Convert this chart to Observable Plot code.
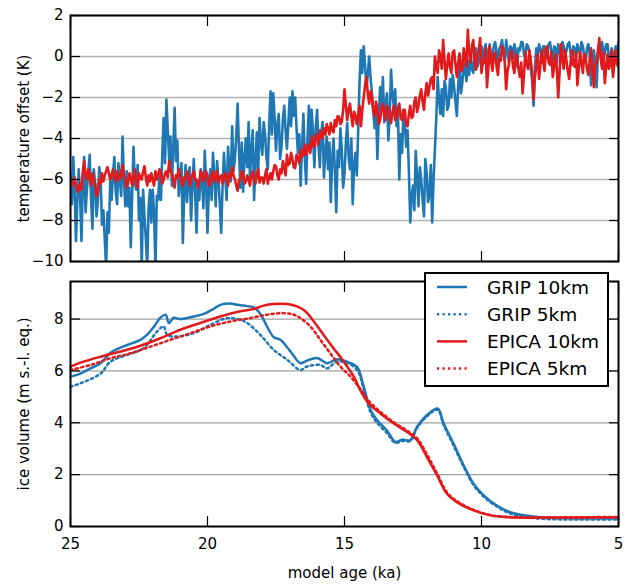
<!DOCTYPE html>
<html>
<head>
<meta charset="utf-8">
<script src="https://cdn.jsdelivr.net/npm/d3@7"></script>
<script src="https://cdn.jsdelivr.net/npm/@observablehq/plot@0.6"></script>
<style>
  body { margin: 0; background: #fff; }
  #chart { position: relative; width: 625px; height: 585px; background: #fff; }
  #chart svg { display: block; }
  #legend { position: absolute; left: 424px; top: 272px; }
</style>
</head>
<body>
<div id="chart"></div>
<script>
// ---------- data ----------
const ageTicks = [25, 20, 15, 10, 5];
const tempTicks = [2, 0, -2, -4, -6, -8, -10];
const iceTicks = [0, 2, 4, 6, 8];

// temperature offset (K), sampled every 0.05 ka from 25.0 ka to 5.0 ka
const tempStart = 25.0;
const tempStep = 0.05;
const gripTemp = [
  -5.8, -7.2, -4.9, -6.5, -9.0, -7.0, -5.5, -6.8, -9.0, -6.2,
  -4.9, -7.6, -6.5, -5.6, -4.8, -6.9, -8.4, -5.5, -6.2, -7.8,
  -7.0, -5.4, -6.0, -8.2, -7.5, -8.9, -10.3, -7.6, -8.6, -6.1,
  -7.0, -5.8, -4.9, -6.6, -7.2, -5.2, -6.0, -6.8, -3.9, -6.0,
  -7.3, -5.6, -7.3, -6.4, -9.3, -6.8, -4.4, -6.2, -6.5, -5.3,
  -8.0, -6.9, -10.3, -6.5, -7.8, -8.9, -10.3, -7.4, -6.5, -8.1,
  -6.5, -7.6, -10.3, -6.8, -7.0, -5.6, -7.0, -4.8, -3.0, -5.2,
  -2.1, -3.6, -5.0, -3.9, -6.3, -4.5, -2.5, -5.1, -4.1, -6.8,
  -6.0, -5.2, -9.1, -6.6, -5.3, -7.1, -6.0, -5.4, -8.0, -6.3,
  -5.0, -6.7, -8.6, -6.1, -7.0, -5.5, -6.0, -7.4, -4.6, -6.2,
  -8.6, -6.4, -5.5, -7.0, -4.7, -5.8, -7.3, -5.1, -6.0, -7.2,
  -8.6, -6.3, -4.7, -5.9, -7.0, -4.4, -5.5, -6.1, -3.4, -5.6,
  -5.0, -3.9, -2.3, -4.6, -6.4, -4.2, -6.6, -5.0, -4.0, -5.4,
  -3.2, -5.9, -4.6, -3.6, -7.0, -5.2, -3.7, -5.6, -3.0, -4.2,
  -4.8, -3.2, -3.8, -4.9, -5.5, -3.4, -1.7, -3.8, -1.8, -3.0,
  -4.6, -3.3, -2.8, -5.0, -4.4, -3.1, -2.4, -3.6, -4.5, -3.3,
  -2.0, -3.4, -1.7, -2.9, -2.0, -3.5, -4.7, -3.8, -6.3, -4.4,
  -2.8, -4.9, -6.2, -4.0, -2.4, -4.6, -2.6, -3.7, -5.4, -3.5,
  -2.6, -4.3, -5.4, -3.7, -3.2, -5.9, -4.7, -3.9, -5.5, -4.2,
  -7.1, -5.0, -4.0, -5.6, -7.6, -4.6, -5.4, -3.5, -4.5, -6.4,
  -5.7, -4.2, -3.25, -4.9, -5.5, -4.0, -7.2, -5.3, -4.7, -5.8,
  -3.6, -1.2, 0.3, -0.8, 0.5, -0.4, -1.5, -0.9, 0.0, -1.0,
  -1.8, -2.7, -3.5, -2.4, -5.0, -2.9, -1.5, -2.6, -1.0, -3.2,
  -2.3, -1.8, -4.1, -2.9, -0.65, -1.9, -2.4, -1.6, -3.4, -2.6,
  -6.0, -3.8, -4.7, -2.8, -3.1, -4.4, -3.6, -5.6, -8.1, -6.8,
  -6.3, -7.5, -4.6, -5.9, -7.3, -5.4, -6.0, -7.0, -7.8, -5.0,
  -5.7, -7.1, -6.7, -5.3, -8.1, -6.0, -4.5, -3.0, -1.0, -2.1,
  -2.8, -1.6, -2.9, -1.2, -1.5, -2.6, -2.4, -1.1, -2.0, -0.9,
  -1.5, -2.2, -2.9, -1.4, -0.5, -1.8, -1.3, -0.3, -0.65, -1.2,
  -0.2, -0.9, 0.2, -0.6, -0.8, 0.1, 0.4, -0.5, -0.3, 0.3,
  0.5, -0.4, 0.3, 0.6, -0.2, 0.2, 0.6, -0.3, 0.1, 0.5,
  0.7, 0.2, -0.4, 0.4, 0.5, 0.8, 0.2, -0.2, 0.8, 0.3,
  -0.3, 0.5, 0.4, -0.1, 0.6, 0.3, -0.5, 0.4, 0.3, 0.7,
  0.7, 0.1, 0.0, 0.6, 0.5, 0.2, -0.6, -1.2, -2.4, -0.5,
  0.4, 0.1, 0.6, 0.3, -0.3, 0.5, 0.5, -0.1, 0.2, 0.6,
  0.7, 0.2, -0.2, 0.5, 0.4, -0.3, 0.6, 0.3, -0.1, 0.7,
  0.5, 0.0, 0.3, 0.6, 0.7, 0.2, -0.4, 0.5, 0.4, 0.0,
  0.6, 0.3, 0.1, 0.7, 0.5, 0.0, -0.2, 0.4, 0.6, 0.1,
  -1.4, -0.2, 0.3, -0.4, -1.5, 0.2, 0.5, 0.1, 0.7, 0.3,
  0.1, 0.6, 0.6, 0.0, -0.3, 0.4, -0.8, 0.2, 0.5, 0.1,
  0.7
];
const epicaTemp = [
  -6.1, -6.3, -6.2, -5.9, -6.3, -6.6, -6.4, -6.2, -6.5, -5.6,
  -5.1, -5.8, -6.0, -5.5, -5.9, -6.3, -5.7, -6.0, -6.2, -6.8,
  -6.65, -6.0, -6.2, -5.7, -6.1, -5.8, -5.6, -5.4, -5.7, -6.0,
  -5.8, -5.5, -5.9, -6.1, -5.6, -5.9, -6.0, -5.7, -5.3, -5.8,
  -6.0, -6.4, -6.2, -5.7, -5.9, -6.3, -5.8, -5.5, -6.1, -6.4,
  -5.7, -5.9, -6.0, -5.6, -5.35, -5.9, -6.3, -5.8, -6.1, -5.7,
  -6.0, -6.3, -5.6, -6.0, -5.8, -5.5, -5.7, -6.2, -6.0, -5.7,
  -5.6, -5.9, -5.1, -5.6, -5.7, -6.0, -6.4, -5.8, -5.9, -5.5,
  -5.8, -6.2, -6.3, -5.9, -6.0, -5.6, -5.8, -6.3, -6.1, -5.8,
  -5.6, -6.0, -6.0, -6.4, -6.1, -5.6, -5.7, -6.1, -5.9, -5.6,
  -5.8, -6.3, -6.15, -5.8, -5.6, -6.1, -5.9, -5.6, -6.15, -5.9,
  -5.8, -6.2, -6.0, -5.7, -5.9, -6.3, -5.7, -5.9, -5.4, -5.8,
  -6.0, -6.3, -6.55, -6.0, -6.0, -5.6, -5.7, -6.2, -6.1, -5.8,
  -6.0, -6.3, -5.8, -5.6, -6.0, -6.2, -5.8, -5.5, -6.15, -5.9,
  -5.9, -6.2, -5.8, -5.5, -6.2, -5.9, -5.7, -6.0, -5.6, -5.3,
  -5.35, -5.8, -6.0, -5.5, -5.7, -5.1, -5.4, -5.8, -4.8, -5.3,
  -5.2, -4.7, -5.0, -5.4, -5.45, -4.8, -4.9, -5.2, -4.55, -4.9,
  -4.8, -4.3, -4.8, -4.5, -4.3, -4.7, -3.9, -4.4, -4.4, -3.8,
  -4.0, -4.3, -3.6, -3.9, -4.0, -3.5, -3.8, -3.3, -3.5, -3.8,
  -3.25, -3.6, -3.7, -3.1, -3.4, -2.9, -2.95, -3.3, -3.2, -2.6,
  -1.6, -2.4, -3.1, -2.6, -2.3, -2.9, -3.4, -2.7, -2.9, -3.3,
  -2.8, -2.4, -3.4, -2.6, -2.0, -1.4, -1.0, -1.8, -2.3, -1.7,
  -2.0, -2.6, -2.9, -2.2, -2.6, -3.3, -3.1, -2.5, -2.3, -2.8,
  -3.1, -2.4, -2.6, -3.0, -3.25, -2.7, -2.4, -3.1, -2.9, -2.5,
  -2.3, -3.0, -3.1, -2.6, -2.6, -3.3, -3.4, -2.8, -2.4, -3.0,
  -2.9, -2.2, -2.0, -2.7, -2.4, -1.9, -1.6, -2.2, -2.6, -1.8,
  -1.3, -1.9, -1.5, -1.1, -1.0, -1.6, 0.0, -0.5, -0.8, 0.3,
  0.0, -0.6, 0.8, -0.2, -1.1, -0.4, 0.15, -0.5, -0.8, 0.2,
  0.3, -0.4, -1.0, -0.3, 0.15, -0.7, -0.65, 0.4, 0.0, -0.5,
  1.3, 0.2, -0.3, 0.5, 0.8, -0.2, -0.65, 0.1, 0.3, 0.9,
  -0.8, -0.2, -0.3, 0.4, -1.5, -0.6, 0.5, -0.2, -0.7, 0.1,
  0.2, -0.5, -0.9, -0.1, -0.2, 0.5, 0.4, -0.3, -1.6, -0.7,
  -0.4, 0.2, 0.3, -0.5, -0.8, 0.1, -0.1, -0.6, -1.0, -0.3,
  -1.8, -0.9, 0.2, -0.4, -0.6, 0.3, -0.2, -0.8, -2.1, -1.0,
  -0.5, 0.1, -1.1, -0.4, 0.3, -0.2, -0.7, 0.4, 0.5, -0.3,
  -0.4, 0.2, -1.0, -0.5, 0.1, -0.6, -2.0, -0.8, 0.6, -0.1,
  -0.6, 0.3, -0.2, -0.7, -1.1, -0.3, 0.3, -0.4, -0.5, 0.2,
  -1.4, -0.6, 0.2, -0.3, -0.8, 0.1, -0.1, -0.6, -0.9, -0.2,
  0.4, -0.5, -1.5, -0.4, -0.3, 0.3, 0.9, -0.1, -0.6, 0.2,
  -1.3, -0.5, 0.1, -0.6, -0.4, 0.3, -1.0, -0.3, 0.3, -0.4,
  -0.5
];

// ice volume (m s.-l. eq.)
const gripIce10Age = [25.0, 24.64, 24.27, 23.9, 23.54, 23.17, 22.93, 22.45, 22.2, 21.96, 21.72, 21.53, 21.41, 21.23, 20.99, 20.5, 20.13, 19.77, 19.53, 19.16, 18.92, 18.55, 18.31, 18.07, 17.82, 17.58, 17.34, 16.97, 16.61, 16.37, 16.0, 15.64, 15.27, 14.9, 14.54, 14.3, 14.05, 13.81, 13.45, 13.14, 12.9, 12.6, 12.35, 11.99, 11.6, 11.38, 11.02, 10.65, 10.29, 9.92, 9.44, 8.95, 8.46, 7.85, 6.64, 5.0];
const gripIce10 = [5.78, 5.9, 6.1, 6.3, 6.7, 6.9, 7.0, 7.2, 7.4, 7.7, 8.05, 8.17, 7.85, 8.05, 8.0, 8.1, 8.2, 8.4, 8.55, 8.6, 8.55, 8.5, 8.45, 8.2, 7.7, 7.3, 7.2, 6.75, 6.3, 6.4, 6.5, 6.3, 6.45, 6.35, 6.15, 5.4, 4.5, 4.1, 3.7, 3.26, 3.35, 3.33, 3.85, 4.3, 4.55, 3.97, 3.2, 2.36, 1.65, 1.2, 0.81, 0.55, 0.43, 0.36, 0.32, 0.32];

const gripIce5Age = [25.0, 24.64, 23.9, 23.54, 22.93, 22.33, 21.84, 21.6, 21.47, 21.11, 20.5, 19.89, 19.28, 18.8, 18.55, 18.07, 17.58, 17.09, 16.61, 16.37, 15.88, 15.64, 15.27, 14.9, 14.54, 14.3, 14.05, 13.81, 13.45, 13.14, 12.9, 12.6, 12.35, 11.99, 11.6, 11.38, 11.02, 10.65, 10.29, 9.92, 9.44, 8.95, 8.46, 7.85, 6.64, 5.0];
const gripIce5 = [5.39, 5.52, 5.9, 6.36, 6.62, 6.88, 7.52, 7.72, 7.39, 7.33, 7.46, 7.78, 8.04, 7.97, 7.85, 7.39, 6.81, 6.43, 6.04, 6.17, 6.23, 6.1, 6.36, 6.3, 6.04, 5.3, 4.4, 4.0, 3.6, 3.22, 3.3, 3.3, 3.8, 4.25, 4.5, 3.9, 3.12, 2.3, 1.6, 1.15, 0.77, 0.5, 0.38, 0.3, 0.27, 0.27];

const epicaIce10Age = [25.0, 24.64, 23.9, 23.17, 22.45, 21.72, 20.99, 20.26, 19.53, 18.8, 18.31, 17.95, 17.58, 17.09, 16.73, 16.43, 16.12, 15.76, 15.4, 15.03, 14.66, 14.42, 14.12, 13.69, 13.2, 12.72, 12.35, 11.99, 11.62, 11.26, 10.9, 10.29, 9.68, 9.07, 7.85, 5.0];
const epicaIce10 = [6.17, 6.32, 6.55, 6.75, 6.97, 7.26, 7.59, 7.85, 8.1, 8.3, 8.39, 8.52, 8.58, 8.58, 8.49, 8.3, 7.91, 7.39, 6.88, 6.36, 5.78, 5.25, 4.75, 4.36, 3.97, 3.65, 3.33, 2.68, 1.97, 1.26, 0.94, 0.62, 0.43, 0.36, 0.34, 0.36];

const epicaIce5Age = [25.0, 24.27, 23.54, 22.81, 22.08, 21.35, 20.62, 19.89, 19.16, 18.43, 17.82, 17.21, 16.85, 16.61, 16.25, 15.88, 15.52, 15.15, 14.78, 14.42, 14.12, 13.69, 13.2, 12.72, 12.35, 11.99, 11.62, 11.26, 10.9, 10.29, 9.68, 9.07, 7.85, 5.0];
const epicaIce5 = [6.04, 6.23, 6.49, 6.68, 6.94, 7.2, 7.46, 7.72, 7.91, 8.04, 8.17, 8.23, 8.17, 8.04, 7.72, 7.2, 6.68, 6.17, 5.78, 5.3, 4.85, 4.42, 4.02, 3.7, 3.4, 2.78, 2.05, 1.32, 0.98, 0.64, 0.44, 0.37, 0.35, 0.37];

const legendLabels = ["GRIP 10km", "GRIP 5km", "EPICA 10km", "EPICA 5km"];
const legendColors = ["#1f78b4", "#1f78b4", "#e31a1c", "#e31a1c"];
const legendDotted = [false, true, false, true];

const xLabel = "model age (ka)";
const yLabelTop = "temperature offset (K)";
const yLabelBottom = "ice volume (m s.-l. eq.)";

// ---------- styling ----------
const BLUE = "#1f78b4", RED = "#e31a1c";
const FONT = "'DejaVu Sans', 'Liberation Sans', sans-serif";
const DOT = "2.2,3.3";
const noLabel = () => "";

const tempRows = gripTemp.map((g, i) => ({
  age: +(tempStart - i * tempStep).toFixed(2), grip: g, epica: epicaTemp[i]
}));
const pairs = (ages, vals) => ages.map((a, i) => ({age: a, v: vals[i]}));

function tickMarks(yt) {
  return [
    Plot.axisY(yt, {anchor: "left", tickSize: 10, dx: 10, tickFormat: noLabel, label: null, strokeWidth: 1.2}),
    Plot.axisY(yt, {anchor: "right", tickSize: 10, dx: -10, tickFormat: noLabel, label: null, strokeWidth: 1.2}),
    Plot.axisX(ageTicks, {anchor: "top", tickSize: 10, dy: 10, tickFormat: noLabel, label: null, strokeWidth: 1.2}),
    Plot.axisX(ageTicks, {anchor: "bottom", tickSize: 10, dy: -10, tickFormat: noLabel, label: null, strokeWidth: 1.2})
  ];
}

const topPlot = Plot.plot({
  width: 625, height: 270,
  marginLeft: 70, marginRight: 7, marginTop: 15, marginBottom: 9,
  style: {fontFamily: FONT, fontSize: "15px", color: "black", background: "white", overflow: "visible"},
  x: {domain: [25, 5]},
  y: {domain: [-10, 2]},
  marks: [
    Plot.ruleY(tempTicks, {stroke: "#b3b3b3", strokeWidth: 1.6}),
    Plot.line(tempRows, {x: "age", y: "grip", stroke: BLUE, strokeWidth: 2.6, clip: true}),
    Plot.line(tempRows, {x: "age", y: "epica", stroke: RED, strokeWidth: 2.6, clip: true}),
    Plot.frame({stroke: "black", strokeWidth: 2}),
    Plot.axisY(tempTicks, {anchor: "left", tickSize: 0, tickPadding: 7, label: null, fontSize: 15}),
    ...tickMarks(tempTicks),
    Plot.text([yLabelTop], {frameAnchor: "left", textAnchor: "middle", lineAnchor: "middle", rotate: -90, dx: -46, fontSize: 15, fill: "black"})
  ]
});

const bottomPlot = Plot.plot({
  width: 625, height: 315,
  marginLeft: 70, marginRight: 7, marginTop: 11, marginBottom: 59,
  style: {fontFamily: FONT, fontSize: "15px", color: "black", background: "white", overflow: "visible"},
  x: {domain: [25, 5]},
  y: {domain: [0, 9.45]},
  marks: [
    Plot.ruleY(iceTicks, {stroke: "#a0a0a0", strokeWidth: 1.2}),
    Plot.line(pairs(gripIce10Age, gripIce10), {x: "age", y: "v", stroke: BLUE, strokeWidth: 2.5, curve: "catmull-rom"}),
    Plot.line(pairs(gripIce5Age, gripIce5), {x: "age", y: "v", stroke: BLUE, strokeWidth: 2.5, strokeDasharray: DOT, curve: "catmull-rom"}),
    Plot.line(pairs(epicaIce10Age, epicaIce10), {x: "age", y: "v", stroke: RED, strokeWidth: 2.5, curve: "catmull-rom"}),
    Plot.line(pairs(epicaIce5Age, epicaIce5), {x: "age", y: "v", stroke: RED, strokeWidth: 2.5, strokeDasharray: DOT, curve: "catmull-rom"}),
    Plot.frame({stroke: "black", strokeWidth: 2}),
    Plot.axisY(iceTicks, {anchor: "left", tickSize: 0, tickPadding: 7, label: null, fontSize: 15}),
    Plot.axisX(ageTicks, {anchor: "bottom", tickSize: 0, tickPadding: 12, label: null, fontSize: 15}),
    ...tickMarks(iceTicks),
    Plot.text([yLabelBottom], {frameAnchor: "left", textAnchor: "middle", lineAnchor: "middle", rotate: -90, dx: -46, fontSize: 15, fill: "black"}),
    Plot.text([xLabel], {frameAnchor: "bottom", textAnchor: "middle", lineAnchor: "middle", dy: 47, fontSize: 15, fill: "black"})
  ]
});

const chart = document.getElementById("chart");
chart.append(topPlot, bottomPlot);

// legend (inside lower panel, upper right)
const lw = 185, lh = 115;
const leg = d3.select(chart).append("svg")
  .attr("id", "legend").attr("width", lw).attr("height", lh)
  .style("font-family", FONT);
leg.append("rect").attr("x", 1).attr("y", 1).attr("width", lw - 2).attr("height", lh - 2)
  .attr("fill", "white").attr("stroke", "black").attr("stroke-width", 2);
legendLabels.forEach((lab, i) => {
  const y = 15 + i * 27.2;
  leg.append("line").attr("x1", 13).attr("x2", 43).attr("y1", y).attr("y2", y)
    .attr("stroke", legendColors[i]).attr("stroke-width", 2.5)
    .attr("stroke-dasharray", legendDotted[i] ? DOT : null);
  leg.append("text").attr("x", 63).attr("y", y).attr("dy", "0.36em")
    .attr("font-size", 18.5).attr("fill", "black").text(lab);
});
</script>
</body>
</html>
